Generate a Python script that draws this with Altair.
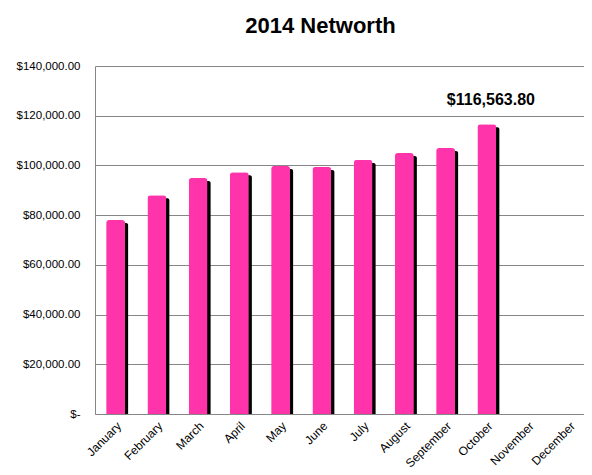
import altair as alt
import pandas as pd

months = ["January", "February", "March", "April", "May", "June", "July",
          "August", "September", "October", "November", "December"]
values = [78000, 88000, 94900, 97300, 99800, 99400, 102200, 105000, 107000,
          116563.80, None, None]
y_ticks = [0, 20000, 40000, 60000, 80000, 100000, 120000, 140000]

df = pd.DataFrame({"month": months, "value": values})

FONT = "Liberation Sans"
GRAY = "#868686"
W, H, SHIFT = 495, 348, 3
YMAX = 140000

x = alt.X("month:N", sort=months, title=None,
          scale=alt.Scale(domain=months, range=[0, W],
                          paddingInner=0.54, paddingOuter=0.27),
          axis=alt.Axis(labelAngle=-45, labelFontSize=12, labelFont=FONT,
                        labelColor="#000000", ticks=False, domainColor=GRAY,
                        labelPadding=6))
y = alt.Y("value:Q", title=None,
          scale=alt.Scale(domain=[0, YMAX], nice=False),
          axis=alt.Axis(values=y_ticks, grid=True, gridColor=GRAY,
                        domainColor=GRAY, ticks=False, labelPadding=15,
                        labelFontSize=11.5, labelFont=FONT, labelColor="#000000",
                        labelExpr="datum.value == 0 ? '$-\u00a0\u00a0\u00a0' : '$' + format(datum.value, ',.2f')"))

# shadow layer: same data drawn on scales shifted a few pixels right/down
xs = alt.X("month:N", sort=months, title=None,
           scale=alt.Scale(domain=months, range=[SHIFT, W + SHIFT],
                           paddingInner=0.54, paddingOuter=0.27),
           axis=None)
ys = alt.Y("value:Q", title=None,
           scale=alt.Scale(domain=[0, YMAX], nice=False,
                           range=[H + SHIFT, SHIFT]),
           axis=None)

base = alt.Chart(df)

# shadow bottom sits on the x axis (the value that maps back to the baseline)
shadow = base.mark_bar(color="#000000", cornerRadiusTopRight=2).encode(
    x=xs, y=ys, y2=alt.datum(YMAX * SHIFT / H))
bars = base.mark_bar(color="#FF33AA", cornerRadiusTopLeft=3,
                     cornerRadiusTopRight=3).encode(x=x, y=y)
label = base.transform_filter("datum.month == 'October'").mark_text(
    font=FONT, fontSize=16, fontWeight="bold", color="#000000",
    dy=-19, dx=4, baseline="alphabetic"
).encode(x=x, y=y, text=alt.Text("value:Q", format="$,.2f"))

front = alt.layer(bars, label)

chart = alt.layer(shadow, front).resolve_scale(
    x="independent", y="independent"
).properties(
    width=489, height=H,
    autosize=alt.AutoSizeParams(type="none"),
    padding={"left": 87, "top": 58, "right": 0, "bottom": 53},
    title=alt.TitleParams("2014 Networth", font=FONT, fontSize=22,
                          fontWeight="bold", color="#000000", offset=22, dx=-19),
).configure_view(stroke=None)

chart.save("out.html", embed_options={"renderer": "svg", "actions": False})
